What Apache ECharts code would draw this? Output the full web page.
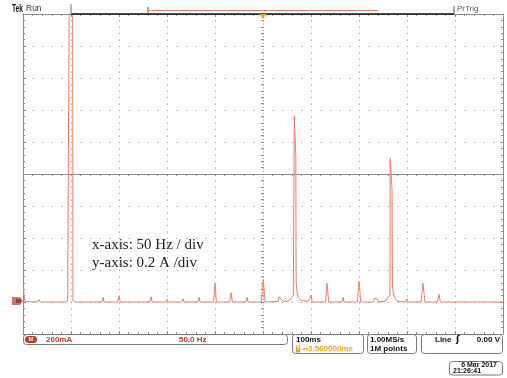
<!DOCTYPE html>
<html>
<head>
<meta charset="utf-8">
<script src="https://cdn.jsdelivr.net/npm/echarts@6/dist/echarts.min.js"></script>
<style>
  html, body { margin: 0; padding: 0; background: #ffffff; }
  #chart { width: 507px; height: 378px; }
</style>
</head>
<body>
<div id="chart"></div>
<script>
// FFT of the line current: frequency in Hz, amplitude in A
const spectrum = [
  [0, 0.11], [1.4, 0.11], [1.9, 0.004],
  [15.4, 0], [16.7, 0.015], [18.0, 0],
  [45.4, 0], [46.5, 0.013], [47.6, 0.004], [48.2, 0.008],
  [48.5, 2.3], [51.7, 2.3], [52.0, 0.01],
  [52.9, 0.002], [53.6, 0.008], [54.4, 0],
  [82.0, 0], [83.3, 0.03], [84.6, 0],
  [98.6, 0], [100.0, 0.037], [101.4, 0],
  [132.0, 0], [133.3, 0.033], [134.6, 0],
  [148.7, 0], [150.0, 0.017], [151.3, 0],
  [165.4, 0], [166.7, 0.02], [168.0, 0],
  [182.0, 0], [183.3, 0.03], [184.6, 0],
  [198.5, 0], [199.4, 0.07], [200.0, 0.117], [200.6, 0.07], [201.5, 0],
  [215.3, 0], [216.7, 0.058], [218.1, 0],
  [232.0, 0], [233.3, 0.03], [234.6, 0],
  [248.3, 0], [249.5, 0.09], [250.3, 0.14], [251.0, 0.09], [252.0, 0],
  [265.6, 0.004], [267.0, 0.033], [268.4, 0.02], [269.8, 0.028], [271.4, 0.004],
  [276.0, 0.004], [279.0, 0.02], [281.6, 0.045], [282.3, 0.05],
  [282.6, 1.164], [284.2, 0.91], [284.5, 0.12], [285.5, 0.06], [287.0, 0.03], [290.0, 0.01], [292.0, 0],
  [297.0, 0.004], [298.5, 0.02], [300.0, 0.044], [301.3, 0],
  [315.2, 0], [316.2, 0.08], [316.7, 0.117], [317.4, 0.07], [318.5, 0],
  [332.0, 0], [333.3, 0.03], [334.6, 0],
  [348.3, 0], [349.4, 0.09], [350.0, 0.13], [350.7, 0.09], [351.8, 0],
  [364.5, 0], [366.0, 0.023], [367.5, 0.012], [369.0, 0.02], [370.5, 0],
  [378.0, 0.005], [380.0, 0.03], [382.2, 0.04],
  [382.5, 0.898], [384.4, 0.704], [384.8, 0.1], [386.0, 0.05], [388.0, 0.015], [390.5, 0.004],
  [398.6, 0], [400.0, 0.02], [401.4, 0],
  [414.6, 0], [416.0, 0.08], [416.7, 0.117], [417.4, 0.07], [418.8, 0],
  [431.8, 0], [433.3, 0.048], [434.8, 0],
  [448.8, 0], [450.0, 0.01], [451.2, 0],
  [465.5, 0], [466.7, 0.01], [467.9, 0],
  [482.1, 0], [483.3, 0.01], [484.5, 0],
  [500, 0]
];

// horizontal: 50 Hz per division; vertical: 0.2 A per division
const freqRange = [0, 500];
const freqPerDiv = 50;
const ampRange = [-0.2, 1.8];
const ampPerDiv = 0.2;
// graticule centre cross, in divisions
const divRange = [-5, 5];

// on-screen readouts
const chanScale = '200mA';
const fftScale = '50.0 Hz';
const timeBase = '100ms';
const trigDelay = '3.560000ms';
const sampleRate = '1.00MS/s';
const recordLen = '1M points';
const trigSource = 'Line';
const trigLevel = '0.00 V';
const dateText = '6 Mar 2017';
const timeText = '21:26:41';
const noteLines = ['x-axis: 50 Hz / div', 'y-axis: 0.2 A /div'];

const GRID = '#8a8a8a';
const DOTS = '#8e8e8e';
const TRACE = '#ee7c66';
const RED = '#c0392b';
const ORANGE = '#f0a020';
const UI_FONT = 'Liberation Sans';

const chart = echarts.init(document.getElementById('chart'), null, { renderer: 'canvas' });

function scopeAxis(extra) {
  return Object.assign({
    type: 'value',
    gridIndex: 0,
    axisLine: { show: true, onZero: false, lineStyle: { color: GRID, width: 1 } },
    axisTick: { show: true, inside: true, length: 3, lineStyle: { color: GRID } },
    minorTick: { show: true, splitNumber: 5, length: 2, lineStyle: { color: GRID } },
    axisLabel: { show: false },
    splitLine: { show: false }
  }, extra);
}

function txt(x, y, s, o) {
  o = o || {};
  return {
    type: 'text', x: x, y: y, silent: true, z: 100,
    scaleX: o.scaleX || 1,
    style: {
      text: s,
      fill: o.fill || '#111',
      font: (o.weight || 'bold') + ' ' + (o.size || 8) + 'px "' + (o.family || UI_FONT) + '"',
      align: o.align || 'left',
      verticalAlign: 'middle'
    }
  };
}
function box(x, y, w, h) {
  return { type: 'rect', silent: true, z: 90,
    shape: { x: x, y: y, width: w, height: h, r: 3 },
    style: { fill: '#fff', stroke: '#7a7a7a', lineWidth: 1 } };
}
function seg(x1, y1, x2, y2, color, w) {
  return { type: 'line', silent: true, z: 95,
    shape: { x1: x1, y1: y1, x2: x2, y2: y2 },
    style: { stroke: color, lineWidth: w || 1 } };
}

const plotBox = { left: 23, top: 14, width: 480, height: 320, containLabel: false, outerBoundsMode: 'none' };

const option = {
  animation: false,
  backgroundColor: '#ffffff',
  grid: [Object.assign({}, plotBox), Object.assign({}, plotBox)],
  xAxis: [
    scopeAxis({
      min: freqRange[0], max: freqRange[1], interval: freqPerDiv, position: 'bottom',
      splitLine: { show: true, lineStyle: { color: DOTS, width: 1, type: [1, 5.4] } }
    }),
    scopeAxis({ min: freqRange[0], max: freqRange[1], interval: freqPerDiv, position: 'top' }),
    // centre vertical line: split line at 0 divisions, ticks along the centre horizontal
    scopeAxis({
      gridIndex: 1, min: divRange[0], max: divRange[1], interval: 5,
      axisLine: { show: false, onZero: true },
      axisTick: { show: false },
      minorTick: { show: true, splitNumber: 25, length: 2, lineStyle: { color: GRID } },
      splitLine: { show: true, lineStyle: { color: '#8a8a8a', width: 1, type: [1, 2.2] } }
    })
  ],
  yAxis: [
    scopeAxis({
      min: ampRange[0], max: ampRange[1], interval: ampPerDiv, position: 'left',
      splitLine: { show: true, lineStyle: { color: DOTS, width: 1, type: [1, 8.6] } }
    }),
    scopeAxis({ min: ampRange[0], max: ampRange[1], interval: ampPerDiv, position: 'right' }),
    // centre horizontal line: solid split line at 0 divisions, ticks along the centre vertical
    scopeAxis({
      gridIndex: 1, min: divRange[0], max: divRange[1], interval: 5,
      axisLine: { show: false, onZero: true },
      axisTick: { show: false },
      minorTick: { show: true, splitNumber: 25, length: 2, lineStyle: { color: GRID } },
      splitLine: { show: true, lineStyle: { color: GRID, width: 1 } }
    })
  ],
  series: [{
    type: 'line',
    xAxisIndex: 0,
    yAxisIndex: 0,
    data: spectrum,
    showSymbol: false,
    clip: true,
    lineStyle: { color: TRACE, width: 1 },
    z: 10
  }],
  graphic: [
    // status line
    txt(12, 9, 'Tek', { size: 11, scaleX: 0.6 }),
    txt(26, 9, 'Run', { size: 8.5, weight: 'normal', fill: '#333' }),
    seg(71, 14, 454, 14, '#111', 1.5),
    seg(71, 4, 71, 14, '#777'),
    seg(148, 7, 148, 14, '#555'),
    seg(148, 10.5, 378, 10.5, '#e8806c'),
    seg(454, 6, 454, 14, '#555'),
    txt(457, 9, 'PrTrig', { size: 8, weight: 'normal', fill: '#555' }),
    { type: 'polygon', silent: true, z: 96,
      shape: { points: [[259.5, 14], [266.5, 14], [263, 19]] }, style: { fill: ORANGE } },
    // channel ground marker
    { type: 'polygon', silent: true, z: 96,
      shape: { points: [[12, 297], [20, 297], [23, 301], [20, 305], [12, 305]] },
      style: { fill: '#c97a6e' } },
    txt(16, 301, 'M', { size: 6, fill: '#5a1a12' }),
    // note
    txt(92, 245.5, noteLines[0], { size: 15, weight: 'normal', family: 'Liberation Serif', fill: '#222' }),
    txt(92, 263, noteLines[1], { size: 15, weight: 'normal', family: 'Liberation Serif', fill: '#222' }),
    // readouts
    box(23.5, 334.5, 264, 10),
    { type: 'rect', silent: true, z: 96, shape: { x: 25, y: 336, width: 12, height: 7, r: 3.5 }, style: { fill: RED } },
    txt(31, 339.7, 'M', { size: 6, fill: '#fff', align: 'center' }),
    txt(46, 339.7, chanScale, { fill: RED }),
    txt(179, 339.7, fftScale, { fill: RED }),
    box(292.5, 334.5, 71, 19),
    txt(296, 340, timeBase),
    { type: 'rect', silent: true, z: 96, shape: { x: 296, y: 345.5, width: 4, height: 7 }, style: { fill: ORANGE } },
    txt(298, 349, 'T', { size: 5, fill: '#fff', align: 'center' }),
    txt(300.5, 349, '→▾', { size: 6, fill: ORANGE, family: 'DejaVu Sans' }),
    txt(308, 349, trigDelay, { fill: ORANGE }),
    box(367.5, 334.5, 49, 19),
    txt(370, 340, sampleRate),
    txt(370, 349, recordLen),
    box(421.5, 334.5, 81, 19),
    txt(435, 340, trigSource),
    txt(456, 340, 'ʃ', { size: 9, family: 'DejaVu Sans', weight: 'bold' }),
    txt(500, 340, trigLevel, { align: 'right' }),
    box(449.5, 361.5, 53, 13.5),
    txt(497, 365, dateText, { size: 7, align: 'right' }),
    txt(453, 371.5, timeText, { size: 7 })
  ]
};

chart.setOption(option);
</script>
</body>
</html>
